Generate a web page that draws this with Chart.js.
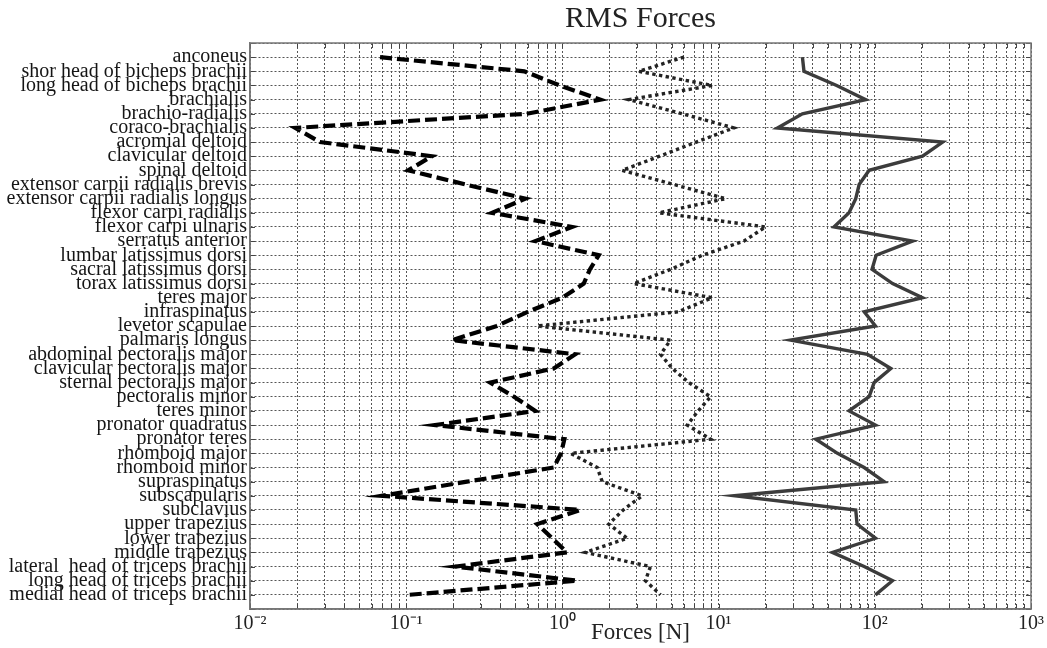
<!DOCTYPE html>
<html>
<head>
<meta charset="utf-8">
<script src="https://cdn.jsdelivr.net/npm/chart.js@4.4.1/dist/chart.umd.min.js"></script>
<style>
  html, body { margin: 0; padding: 0; background: #fff; }
  #wrap { width: 1047px; height: 648px; position: relative; }
</style>
</head>
<body>
<div id="wrap"><canvas id="c"></canvas></div>
<script>
// ---- data ----
const muscles = [
  "anconeus",
  "shor head of bicheps brachii",
  "long head of bicheps brachii",
  "brachialis",
  "brachio-radialis",
  "coraco-brachialis",
  "acromial deltoid",
  "clavicular deltoid",
  "spinal deltoid",
  "extensor carpii radialis brevis",
  "extensor carpii radialis longus",
  "flexor carpi radialis",
  "flexor carpi ulnaris",
  "serratus anterior",
  "lumbar latissimus dorsi",
  "sacral latissimus dorsi",
  "torax latissimus dorsi",
  "teres major",
  "infraspinatus",
  "levetor scapulae",
  "palmaris longus",
  "abdominal pectoralis major",
  "clavicular pectoralis major",
  "sternal pectoralis major",
  "pectoralis minor",
  "teres minor",
  "pronator quadratus",
  "pronator teres",
  "rhomboid major",
  "rhomboid minor",
  "supraspinatus",
  "subscapularis",
  "subclavius",
  "upper trapezius",
  "lower trapezius",
  "middle trapezius",
  "lateral  head of triceps brachii",
  "long head of triceps brachii",
  "medial head of triceps brachii"
];

const dashedSeries = [0.068, 0.57, 0.96, 1.75, 0.59, 0.0195, 0.028, 0.146, 0.103, 0.24,
                      0.58, 0.354, 1.15, 0.67, 1.71, 1.5, 1.37, 1.0, 0.6, 0.38,
                      0.196, 1.21, 0.88, 0.345, 0.49, 0.67, 0.153, 1.03, 0.98, 0.88,
                      0.245, 0.07, 1.3, 0.69, 0.86, 1.07, 0.206, 1.24, 0.103];

const dottedSeries = [6.0, 3.08, 9.1, 2.66, 5.85, 12.5, 7.2, 4.19, 2.41, 5.17,
                      11.1, 4.15, 20, 14.5, 7.86, 4.92, 2.86, 9.1, 5.5, 0.69,
                      4.92, 4.25, 5.05, 6.45, 8.89, 7.4, 6.3, 8.9, 1.13, 1.67,
                      1.80, 3.24, 2.45, 1.98, 2.6, 1.4, 3.66, 3.4, 4.25];

const solidSeries = [34.4, 35.2, 57, 87.5, 34.4, 23.8, 272, 202, 92, 79.4,
                     75.5, 68.4, 54.8, 174.6, 102, 96, 130, 202, 85.5, 101,
                     28.9, 89.8, 126.7, 99, 92, 68.4, 101, 41.9, 57.7, 85.5,
                     114.8, 12.6, 75.5, 77, 101, 53.5, 85.5, 129.8, 101];

const xTickExponents = [-2, -1, 0, 1, 2, 3];
const supDigits = {"-":"\u207B","0":"\u2070","1":"\u00B9","2":"\u00B2","3":"\u00B3","4":"\u2074","5":"\u2075","6":"\u2076","7":"\u2077","8":"\u2078","9":"\u2079"};
const xTickLabels = xTickExponents.map(e => "10" + String(e).split("").map(c => supDigits[c]).join(""));

const titleText = "RMS Forces";
const xTitleText = "Forces [N]";

// ---- helpers ----
const toPoints = arr => arr.map((v, i) => ({ x: v, y: i }));
const SERIF = "'Liberation Serif', 'Times New Roman', serif";

const framePlugin = {
  id: 'frame',
  afterDraw(chart) {
    const { ctx, chartArea: { left, right, top, bottom } } = chart;
    ctx.save();
    ctx.strokeStyle = '#444';
    ctx.lineWidth = 1;
    const xs = chart.scales.x, ys = chart.scales.y;
    ctx.beginPath();
    xs.ticks.forEach(t => {
      const px = Math.round(xs.getPixelForValue(t.value)) + 0.5;
      ctx.moveTo(px, bottom); ctx.lineTo(px, bottom - 5);
      ctx.moveTo(px, top); ctx.lineTo(px, top + 5);
    });
    ys.ticks.forEach(t => {
      const py = Math.round(ys.getPixelForValue(t.value)) + 0.5;
      ctx.moveTo(left, py); ctx.lineTo(left + 5, py);
      ctx.moveTo(right, py); ctx.lineTo(right - 5, py);
    });
    ctx.stroke();
    ctx.strokeStyle = '#777';
    ctx.lineWidth = 1.5;
    ctx.strokeRect(left, top, right - left, bottom - top);
    ctx.restore();
  }
};

new Chart(document.getElementById('c'), {
  type: 'line',
  data: {
    datasets: [
      { label: 'dashed', data: toPoints(dashedSeries), borderColor: '#000', borderWidth: 4.2,
        borderDash: [12, 5], pointRadius: 0, tension: 0, fill: false },
      { label: 'dotted', data: toPoints(dottedSeries), borderColor: '#222', borderWidth: 3.4,
        borderDash: [3.4, 3.4], pointRadius: 0, tension: 0, fill: false },
      { label: 'solid', data: toPoints(solidSeries), borderColor: '#3c3c3c', borderWidth: 3.4,
        pointRadius: 0, tension: 0, fill: false }
    ]
  },
  options: {
    responsive: true,
    maintainAspectRatio: false,
    animation: false,
    layout: { padding: { left: 0, right: 15, top: 0, bottom: 0 } },
    plugins: {
      legend: { display: false },
      tooltip: { enabled: false },
      title: {
        display: true, text: titleText, fullSize: false, color: '#222',
        font: { family: SERIF, size: 30, weight: 'normal' },
        padding: { top: 1, bottom: 6 }
      }
    },
    scales: {
      x: {
        type: 'logarithmic',
        min: 0.01, max: 1000,
        afterBuildTicks(scale) {
          const t = [];
          for (let e = -2; e <= 2; e++) {
            for (let m = 1; m <= 9; m++) t.push({ value: m * Math.pow(10, e) });
          }
          t.push({ value: 1000 });
          scale.ticks = t;
        },
        afterFit(scale) { scale.height = 39; },
        ticks: {
          autoSkip: false, maxRotation: 0, minRotation: 0, padding: 3,
          color: '#222',
          font: { family: SERIF, size: 20 },
          callback(value) {
            const l = Math.log10(value);
            const r = Math.round(l);
            if (Math.abs(l - r) < 1e-6) {
              const idx = xTickExponents.indexOf(r);
              return idx >= 0 ? xTickLabels[idx] : '';
            }
            return '';
          }
        },
        grid: { color: '#555', lineWidth: 1, drawTicks: false },
        border: { display: true, color: '#777', width: 1.5, dash: [2, 2] },
        title: {
          display: true, text: xTitleText, color: '#222',
          font: { family: SERIF, size: 23 },
          padding: { top: 0, bottom: 1 }
        }
      },
      y: {
        type: 'linear',
        reverse: true,
        min: -1, max: muscles.length,
        afterBuildTicks(scale) {
          const t = [];
          for (let i = -1; i <= muscles.length; i++) t.push({ value: i });
          scale.ticks = t;
        },
        afterFit(scale) { scale.width = 250; },
        ticks: {
          autoSkip: false, padding: 3, color: '#151515',
          font: { family: SERIF, size: 20 },
          callback(value) { return muscles[value] !== undefined ? muscles[value] : ''; }
        },
        grid: { color: '#555', lineWidth: 1, drawTicks: false },
        border: { display: true, color: '#777', width: 1.5, dash: [2, 2] }
      }
    }
  },
  plugins: [framePlugin]
});
</script>
</body>
</html>
